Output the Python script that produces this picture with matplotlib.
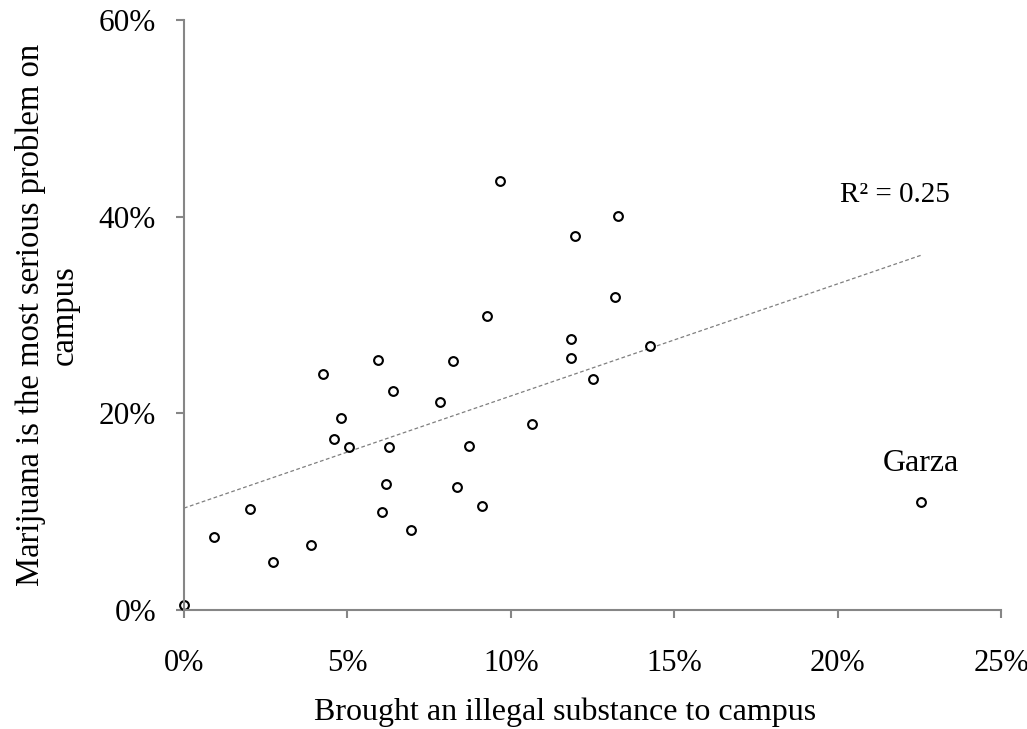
import numpy as np
import matplotlib.pyplot as plt
from matplotlib.ticker import FuncFormatter, MultipleLocator

plt.rcParams['font.family'] = ['Liberation Serif', 'DejaVu Serif']

# Share of students, in percent
brought = [0.0, 0.92, 2.03, 2.72, 3.88, 4.24, 4.80, 4.60, 5.05, 5.95,
           6.41, 6.27, 6.18, 6.05, 6.94, 8.24, 7.82, 8.34, 8.71, 9.66,
           13.29, 11.95, 13.18, 9.28, 11.83, 11.84, 14.27, 12.51, 10.66, 9.13,
           22.55]
marijuana = [0.5, 7.4, 10.27, 4.9, 6.6, 24.0, 19.5, 17.4, 16.6, 25.4,
             22.3, 16.6, 12.8, 10.0, 8.1, 25.3, 21.2, 12.5, 16.7, 43.6,
             40.1, 38.0, 31.8, 29.9, 27.6, 25.6, 26.8, 23.5, 18.9, 10.6,
             11.0]
outlier_name = 'Garza'

X = np.array(brought)
Y = np.array(marijuana)

# linear trendline
b1, b0 = np.polyfit(X, Y, 1)
pred = b0 + b1 * X
r2 = 1 - np.sum((Y - pred) ** 2) / np.sum((Y - Y.mean()) ** 2)
print(b1, b0, r2)

fig = plt.figure(figsize=(10.27, 7.29), dpi=100)
ax = fig.add_axes([184 / 1027, 1 - 610 / 729, (1001 - 184) / 1027, (610 - 20) / 729])

xs = np.array([0, X.max()])
ax.plot(xs, b0 + b1 * xs, color='#7f7f7f', lw=0.9, ls=(0, (3, 2)), zorder=1)
ax.scatter(X, Y, s=40, facecolors='white', edgecolors='black', linewidths=1.5,
           zorder=2, clip_on=False)

ax.text(X[-1], Y[-1] + 2.4, outlier_name, ha='center', va='bottom', fontsize=23)
ax.text(21.75, 42.2, 'R² = %.2f' % r2, ha='center', va='center', fontsize=21)

ax.set_xlim(0, 25)
ax.set_ylim(0, 60)
ax.xaxis.set_major_locator(MultipleLocator(5))
ax.yaxis.set_major_locator(MultipleLocator(20))
pct = FuncFormatter(lambda v, p: '%d%%' % v)
ax.xaxis.set_major_formatter(pct)
ax.yaxis.set_major_formatter(pct)

for s in ['top', 'right']:
    ax.spines[s].set_visible(False)
for s in ['left', 'bottom']:
    ax.spines[s].set_color('#868686')
    ax.spines[s].set_linewidth(1.5)
ax.tick_params(direction='out', length=6, width=1.5, color='#868686',
               labelsize=22.5)
ax.tick_params(axis='x', pad=22, labelsize=22)
ax.tick_params(axis='y', pad=14)

ax.set_xlabel('Brought an illegal substance to campus', fontsize=23)
ax.xaxis.set_label_coords(0.466, -0.173, transform=ax.transAxes)
ax.xaxis.label.set_va('center')
ax.set_ylabel('Marijuana is the most serious problem on\ncampus', fontsize=23.5,
              labelpad=14, linespacing=1.12)

fig.savefig('out.png', dpi=100)
